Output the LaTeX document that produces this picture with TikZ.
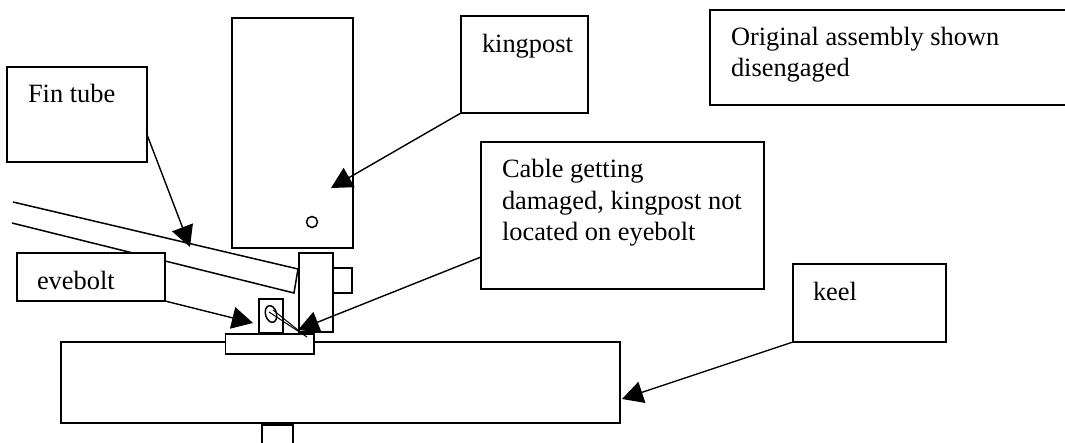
\documentclass[tikz,border=0pt]{standalone}
\usepackage{fontspec}
\setmainfont{Liberation Serif}
\usetikzlibrary{arrows.meta,shapes.geometric}

\begin{document}
\begin{tikzpicture}[x=1pt,y=-1pt,line width=1.5pt,
  every node/.style={outer sep=0pt,inner sep=0pt},
  labelbox/.style={draw,fill=white,rectangle},
  labeltext/.style={anchor=base west,align=left,font=\fontsize{26.4}{31.5}\selectfont},
  pointer/.style={-{Triangle[length=21pt,width=22pt]},line width=1.4pt}]
\useasboundingbox (0,0) rectangle (1065,443);

% tube
\coordinate (tubetop) at (13,202);
\coordinate (tubelow) at (12,223);
\coordinate (tubeend) at (298,269);
\coordinate (tubefoot) at (294,293);
\draw (tubetop) -- (tubeend) -- (tubefoot) -- (tubelow);

% post and keel
\node[labelbox,minimum width=121pt,minimum height=230pt] (post) at (292.5,133) {};
\node[draw,circle,minimum size=11pt] (posthole) at (312,222) {};
\node[labelbox,minimum width=559pt,minimum height=81pt] (keel) at (340.5,382.5) {};
\node[draw,minimum width=31pt,minimum height=24pt] (stub) at (277.5,437) {};

% fitting
\node[draw,minimum width=19pt,minimum height=25pt] (tab) at (342.5,280.5) {};
\node[labelbox,minimum width=34pt,minimum height=79pt] (upright) at (316,292.5) {};
\node[labelbox,minimum width=88.5pt,minimum height=20pt] (plate) at (269.5,344) {};
\node[labelbox,minimum width=24pt,minimum height=34pt] (eyeblock) at (271,316) {};
\node[draw,ellipse,minimum width=11pt,minimum height=17pt,rotate=15] (eyehole) at (271,314) {};

% cable
\coordinate (cableend) at (307,337);
\coordinate (cablebend) at (298,330);
\draw[line width=1pt] (eyehole.center) ++(-2,-2) -- (cableend);
\draw[line width=1pt] (eyehole.center) ++(2,-4) -- (cablebend);

% labels
\node[labelbox,minimum width=127pt,minimum height=97pt] (kingbox) at (524.5,64.5) {};
\node[labeltext] (kingtext) at (482,53) {kingpost};
\node[labelbox,minimum width=365pt,minimum height=95pt] (origbox) at (892.5,57.5) {};
\node[labeltext] (origtext) at (731,77) {Original assembly shown\\disengaged};
\node[labelbox,minimum width=140pt,minimum height=95pt] (finbox) at (77,114.5) {};
\node[labeltext] (fintext) at (28,103) {Fin tube};
\node[labelbox,minimum width=148pt,minimum height=48pt] (eyebox) at (91,277) {};
\node[labeltext] (eyetext) at (37,290) {evebolt};
\node[labelbox,minimum width=283pt,minimum height=147pt] (cablebox) at (622.5,215.5) {};
\node[labeltext] (cabletext) at (502,241) {Cable getting\\damaged, kingpost not\\located on eyebolt};
\node[labelbox,minimum width=153pt,minimum height=78pt] (keelbox) at (869.5,303) {};
\node[labeltext] (keeltext) at (813,301) {keel};

% pointers
\coordinate (posttip) at (331,188);
\coordinate (fintip) at (190,247);
\coordinate (eyetip) at (253,323);
\coordinate (cabletip) at (298,330);
\coordinate (keeltip) at (622,399);
\draw[pointer] (kingbox.south west) -- (posttip);
\draw[pointer] (finbox.-16) -- (fintip);
\draw[pointer] (eyebox.south east) -- (eyetip);
\draw[pointer] (cablebox.west |- 0,257) -- (cabletip);
\draw[pointer] (keelbox.south west) -- (keeltip);
\end{tikzpicture}
\end{document}
